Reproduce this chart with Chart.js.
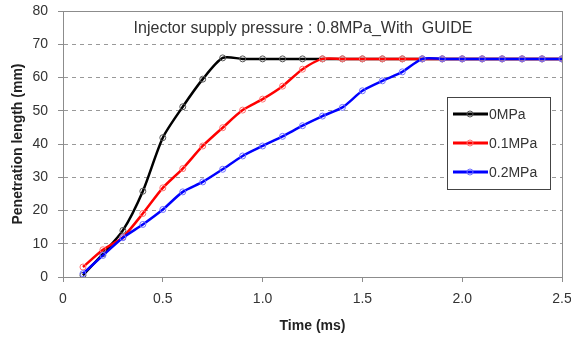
<!DOCTYPE html>
<html>
<head>
<meta charset="utf-8">
<script src="https://cdn.jsdelivr.net/npm/chart.js@4"></script>
<style>
  html, body { margin: 0; padding: 0; background: #fff; }
  #wrap { width: 571px; height: 339px; }
</style>
</head>
<body>
<div id="wrap"><canvas id="penChart"></canvas></div>
<script>
  const times = [0.1, 0.2, 0.3, 0.4, 0.5, 0.6, 0.7, 0.8, 0.9, 1.0, 1.1, 1.2, 1.3,
    1.4, 1.5, 1.6, 1.7, 1.8, 1.9, 2.0, 2.1, 2.2, 2.3, 2.4, 2.5];
  const p0 = [0.5, 7, 14, 25.8, 41.9, 51.2, 59.5, 65.9, 65.6, 65.6, 65.6, 65.6, 65.6,
    65.6, 65.6, 65.6, 65.6, 65.6, 65.6, 65.6, 65.6, 65.6, 65.6, 65.6, 65.6];
  const p01 = [3.0, 8.2, 12, 19.1, 26.8, 32.6, 39.4, 44.9, 50.2, 53.5, 57.4, 62.5, 65.6,
    65.6, 65.6, 65.6, 65.6, 65.6, 65.6, 65.6, 65.6, 65.6, 65.6, 65.6, 65.6];
  const p02 = [1.0, 6.5, 11.8, 15.8, 20.3, 25.6, 28.6, 32.4, 36.4, 39.4, 42.3, 45.5, 48.4,
    51.0, 56.0, 59.0, 61.7, 65.6, 65.6, 65.6, 65.6, 65.6, 65.6, 65.6, 65.6];
  const seriesLabels = ['0MPa', '0.1MPa', '0.2MPa'];
  const chartTitle = 'Injector supply pressure : 0.8MPa_With  GUIDE';

  const FONT = "'Liberation Sans', Arial, sans-serif";
  const TXT = '#333';

  function toPoints(vals) {
    return times.map((t, i) => ({ x: t, y: vals[i] }));
  }

  function makeSet(label, vals, color, markColor, order) {
    return {
      label,
      data: toPoints(vals),
      borderColor: color,
      borderWidth: 2.5,
      pointRadius: 3,
      pointBorderWidth: 1,
      pointBorderColor: markColor,
      pointBackgroundColor: 'transparent',
      tension: 0.25,
      order,
    };
  }

  // no extra room for overhanging tick labels, keep the plot box fixed
  function noOverhang(scale) {
    scale.paddingLeft = 0;
    scale.paddingRight = 0;
    scale.paddingTop = 0;
    scale.paddingBottom = 0;
  }

  // frame + title + legend drawn inside the plot
  const framePlugin = {
    id: 'frame',
    afterDraw(chart) {
      const { ctx, chartArea } = chart;
      const { left, top, right, bottom } = chartArea;
      ctx.save();
      ctx.strokeStyle = '#8c8c8c';
      ctx.lineWidth = 1;
      ctx.strokeRect(left + 0.5, top + 0.5, right - left, bottom - top);

      ctx.fillStyle = TXT;
      ctx.font = '16px ' + FONT;
      ctx.textAlign = 'center';
      ctx.textBaseline = 'middle';
      ctx.fillText(chartTitle, 303, 29);

      // legend box
      const lx = 447, ly = 97, lw = 103, lh = 92;
      ctx.fillStyle = '#fff';
      ctx.fillRect(lx, ly, lw, lh);
      ctx.strokeStyle = '#444';
      ctx.strokeRect(lx + 0.5, ly + 0.5, lw, lh);
      chart.data.datasets.forEach((ds, i) => {
        const y = 114 + i * 29;
        ctx.strokeStyle = ds.borderColor;
        ctx.lineWidth = 3;
        ctx.beginPath();
        ctx.moveTo(453, y);
        ctx.lineTo(488, y);
        ctx.stroke();
        ctx.strokeStyle = ds.pointBorderColor;
        ctx.lineWidth = 1;
        ctx.beginPath();
        ctx.arc(470, y, 3, 0, Math.PI * 2);
        ctx.stroke();
        ctx.fillStyle = TXT;
        ctx.font = '14px ' + FONT;
        ctx.textAlign = 'left';
        ctx.fillText(ds.label, 489, y + 1);
      });
      ctx.restore();
    },
  };

  const ctx = document.getElementById('penChart').getContext('2d');
  new Chart(ctx, {
    type: 'line',
    data: {
      datasets: [
        makeSet(seriesLabels[0], p0, '#000000', '#555555', 3),
        makeSet(seriesLabels[1], p01, '#ff0000', '#ff7070', 2),
        makeSet(seriesLabels[2], p02, '#0000ff', '#7070ff', 1),
      ],
    },
    options: {
      responsive: true,
      maintainAspectRatio: false,
      animation: false,
      layout: { padding: { left: 6, right: 9, top: 11, bottom: 0 } },
      plugins: {
        legend: { display: false },
        tooltip: { enabled: false },
      },
      scales: {
        x: {
          type: 'linear',
          min: 0,
          max: 2.5,
          afterFit(scale) { scale.height = 62; noOverhang(scale); },
          ticks: {
            stepSize: 0.5,
            color: TXT,
            font: { family: FONT, size: 14 },
            padding: 9,
          },
          grid: { drawOnChartArea: false, drawTicks: true, tickLength: 5, color: '#8c8c8c' },
          border: { color: '#8c8c8c' },
          title: {
            display: true,
            text: 'Time (ms)',
            color: '#222',
            font: { family: FONT, size: 14, weight: 'bold' },
            padding: { top: 4 },
          },
        },
        y: {
          min: 0,
          max: 80,
          afterFit(scale) { scale.width = 57; noOverhang(scale); },
          ticks: {
            stepSize: 10,
            color: TXT,
            font: { family: FONT, size: 14 },
            padding: 10,
          },
          grid: { color: '#999', tickLength: 5, tickColor: '#8c8c8c', drawTicks: true },
          border: { color: '#8c8c8c', dash: [4, 4] },
          title: {
            display: true,
            text: 'Penetration length (mm)',
            color: '#222',
            font: { family: FONT, size: 14, weight: 'bold' },
            padding: { bottom: 1 },
          },
        },
      },
    },
    plugins: [framePlugin],
  });
</script>
</body>
</html>
